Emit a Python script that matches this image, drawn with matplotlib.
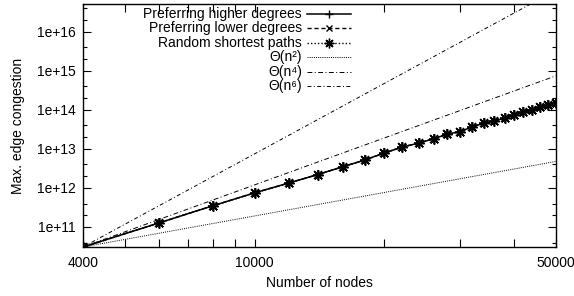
import numpy as np
import matplotlib
matplotlib.use("Agg")
import matplotlib.pyplot as plt
from matplotlib.ticker import FixedLocator, NullFormatter, FixedFormatter, LogLocator

plt.rcParams["font.family"] = ["Liberation Sans", "DejaVu Sans"]
plt.rcParams["font.size"] = 10

# Data
nodes = [4000, 6000, 8000, 10000, 12000, 14000, 16000, 18000, 20000, 22000,
         24000, 26000, 28000, 30000, 32000, 34000, 36000, 38000, 40000, 42000,
         44000, 46000, 48000, 50000]
higher = [3.07e10, 1.27e11, 3.5e11, 7.5e11, 1.34e12, 2.2e12, 3.5e12, 5.2e12,
          7.9e12, 1.12e13, 1.41e13, 1.82e13, 2.4e13, 2.8e13, 3.7e13, 4.6e13,
          5.2e13, 6.2e13, 7.4e13, 8.9e13, 1.0e14, 1.2e14, 1.35e14, 1.5e14]
lower = [3.07e10, 1.27e11, 3.5e11, 7.5e11, 1.34e12, 2.2e12, 3.5e12, 5.2e12,
         7.9e12, 1.12e13, 1.41e13, 1.82e13, 2.4e13, 2.8e13, 3.7e13, 4.6e13,
         5.2e13, 6.2e13, 7.4e13, 8.9e13, 1.0e14, 1.2e14, 1.35e14, 1.5e14]
random_sp = [3.07e10, 1.27e11, 3.5e11, 7.5e11, 1.34e12, 2.2e12, 3.5e12, 5.2e12,
             7.9e12, 1.12e13, 1.41e13, 1.82e13, 2.4e13, 2.8e13, 3.7e13, 4.6e13,
             5.2e13, 6.2e13, 7.4e13, 8.9e13, 1.0e14, 1.2e14, 1.35e14, 1.5e14]

# reference growth lines (endpoints)
theta_n = [4000, 50000]
theta2 = [3.07e10, 4.8e12]
theta4 = [3.07e10, 7.5e14]
theta6 = [3.07e10, 1.17e17]

x_ticks = [4000, 10000, 50000]
x_minor = [5000, 6000, 7000, 8000, 9000, 20000, 30000, 40000]
y_ticks = [1e11, 1e12, 1e13, 1e14, 1e15, 1e16]
y_tick_labels = ["1e+11", "1e+12", "1e+13", "1e+14", "1e+15", "1e+16"]

fig = plt.figure(figsize=(5.74, 2.96), dpi=100)
ax = fig.add_axes((83 / 574, 1 - 247 / 296, (556 - 83) / 574, (247 - 4) / 296))

styles = [
    dict(ls="-", lw=1.1, marker="+", ms=6.5, mew=1.1),
    dict(ls=(0, (3, 2)), lw=1.0, marker="x", ms=5.5, mew=1.1),
    dict(ls=(0, (1, 1.5)), lw=1.0, marker=(8, 2, 0), ms=7.5, mew=1.1),
    dict(ls=(0, (1, 1.2)), lw=0.7),
    dict(ls=(0, (5, 2.5, 1, 2.5)), lw=0.7),
    dict(ls=(0, (4, 2.5, 1, 2.5)), lw=0.7),
]
labels = ["Preferring higher degrees", "Preferring lower degrees",
          "Random shortest paths", "Θ(n²)", "Θ(n⁴)", "Θ(n⁶)"]
series = [(nodes, higher), (nodes, lower), (nodes, random_sp),
          (theta_n, theta2), (theta_n, theta4), (theta_n, theta6)]

for (xs, ys), st in zip(series, styles):
    ax.plot(xs, ys, color="black", **st)

ax.set_xscale("log")
ax.set_yscale("log")
ax.set_xlim(4000, 50000)
ax.set_ylim(3.07e10, 5.2e16)

ax.xaxis.set_major_locator(FixedLocator(x_ticks))
ax.xaxis.set_major_formatter(FixedFormatter([str(v) for v in x_ticks]))
ax.xaxis.set_minor_locator(FixedLocator(x_minor))
ax.xaxis.set_minor_formatter(NullFormatter())
ax.yaxis.set_major_locator(FixedLocator(y_ticks))
ax.yaxis.set_major_formatter(FixedFormatter(y_tick_labels))
ax.yaxis.set_minor_locator(LogLocator(base=10, subs=(2.0, 4.0), numticks=20))
ax.yaxis.set_minor_formatter(NullFormatter())

ax.tick_params(which="both", direction="in", top=True, right=True, width=0.8)
ax.tick_params(which="major", length=6)
ax.tick_params(axis="x", which="minor", length=6)
ax.tick_params(axis="y", which="minor", length=3)
ax.tick_params(axis="x", pad=6.5)
ax.tick_params(axis="y", pad=5)
for s in ax.spines.values():
    s.set_linewidth(1.0)

ax.set_xlabel("Number of nodes", labelpad=4)
ax.set_ylabel("Max. edge congestion", labelpad=9)

# gnuplot-style key: right-aligned text, sample line to the right
def to_ax(px, py):
    return (px - 83) / 473, (247 - py) / 243

for i, (lab, st) in enumerate(zip(labels, styles)):
    py = 14 + i * 14.4
    x0, y0 = to_ax(307, py)
    x1, _ = to_ax(351, py)
    xt, _ = to_ax(302, py)
    ax.plot([x0, x1], [y0, y0], color="black", transform=ax.transAxes,
            ls=st["ls"], lw=st["lw"], clip_on=False)
    if "marker" in st:
        ax.plot([(x0 + x1) / 2], [y0], color="black", transform=ax.transAxes,
                marker=st["marker"], ms=st["ms"] - 0.5, mew=1.0, ls="none")
    ax.text(xt, y0, lab, transform=ax.transAxes, ha="right", va="center")

fig.savefig("out.png", dpi=100)
